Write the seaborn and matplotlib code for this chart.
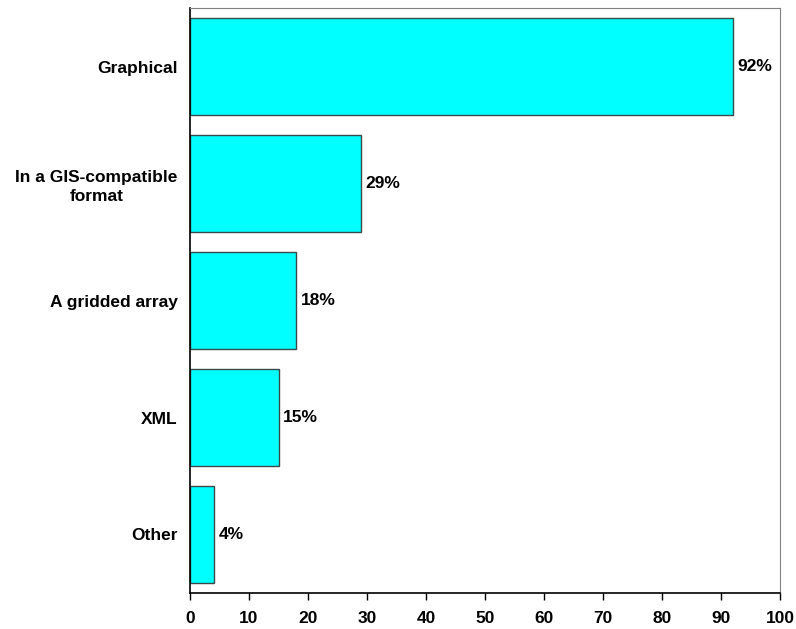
import matplotlib
matplotlib.use("Agg")
import matplotlib.pyplot as plt
import seaborn as sns
import pandas as pd

categories = ["Graphical", "In a GIS-compatible\nformat", "A gridded array", "XML", "Other"]
values = [92, 29, 18, 15, 4]
labels = ["92%", "29%", "18%", "15%", "4%"]

df = pd.DataFrame({"category": categories, "value": values})

sns.set_style("white")
plt.rcParams["font.family"] = ["Liberation Sans", "DejaVu Sans"]
plt.rcParams["font.weight"] = "bold"
plt.rcParams["text.color"] = "black"
plt.rcParams["xtick.color"] = "black"
plt.rcParams["ytick.color"] = "black"

fig = plt.figure(figsize=(7.96, 6.29), dpi=100)
ax = fig.add_axes([190 / 796, 1 - 593 / 629, 590 / 796, 585 / 629])

sns.barplot(data=df, x="value", y="category", orient="h", color="#00FFFF",
            saturation=1, width=0.83, edgecolor="#3a4a4a", linewidth=1, ax=ax)

# percentage labels right of each bar
for i, (v, lab) in enumerate(zip(values, labels)):
    ax.text(v + 0.8, i, lab, va="center", ha="left", fontsize=12.5,
            fontweight="bold", color="black")

ax.set_xlim(0, 100)
ax.set_ylim(4.5, -0.5)
ax.set_xticks(range(0, 101, 10))
ax.set_xlabel("")
ax.set_ylabel("")
ax.tick_params(axis="x", direction="out", length=5, width=1, color="black",
               labelsize=12.5, pad=8, bottom=True)
ax.tick_params(axis="y", length=0, labelsize=12.5, pad=9)
for lab in ax.get_xticklabels() + ax.get_yticklabels():
    lab.set_fontweight("bold")
for lab in ax.get_yticklabels():
    lab.set_multialignment("center")
    lab.set_linespacing(1.3)

ax.spines["left"].set_color("black")
ax.spines["bottom"].set_color("black")
ax.spines["left"].set_linewidth(1.2)
ax.spines["bottom"].set_linewidth(1.2)
ax.spines["top"].set_color("#808080")
ax.spines["right"].set_color("#808080")

fig.savefig("out.png", dpi=100)
